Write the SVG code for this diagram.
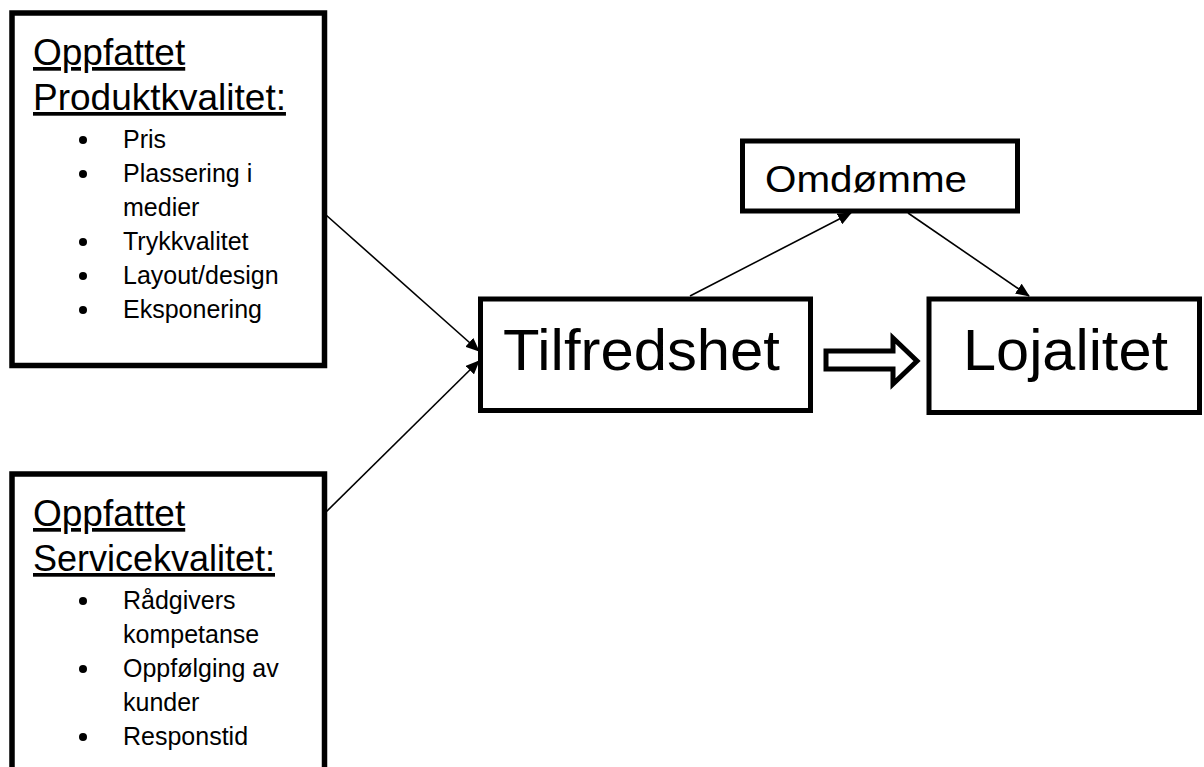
<svg xmlns="http://www.w3.org/2000/svg" width="1204" height="767" viewBox="0 0 1204 767">
<style>
.box{fill:#fff;stroke:#000;stroke-width:5}
.thick{stroke-width:5.5}
.t{font-family:"Liberation Sans",Arial,sans-serif;fill:#000}
.h{font-size:37px;text-decoration:underline}
.i{font-size:25px}
.big{font-size:57px}
.mid{font-size:37px}
.b{fill:#000}
.con{stroke:#000;stroke-width:1.6;fill:none}
</style>
<defs>
<marker id="ah" markerUnits="userSpaceOnUse" markerWidth="14" markerHeight="12" refX="13" refY="6" orient="auto" viewBox="0 0 14 12">
<path d="M0,0 L14,6 L0,12 Z" fill="#000"/>
</marker>
</defs>
<rect width="1204" height="767" fill="#fff"/>
<g id="produkt">
<rect class="box thick" x="12" y="13" width="312.5" height="352.5"/>
<text class="t h" x="33" y="65">Oppfattet</text>
<text class="t h" x="33" y="110">Produktkvalitet:</text>
<circle class="b" cx="83" cy="140" r="4"/>
<text class="t i" x="123" y="148">Pris</text>
<circle class="b" cx="83" cy="174" r="4"/>
<text class="t i" x="123" y="182">Plassering i</text>
<text class="t i" x="123" y="216">medier</text>
<circle class="b" cx="83" cy="242" r="4"/>
<text class="t i" x="123" y="250">Trykkvalitet</text>
<circle class="b" cx="83" cy="276" r="4"/>
<text class="t i" x="123" y="284">Layout/design</text>
<circle class="b" cx="83" cy="310" r="4"/>
<text class="t i" x="123" y="318">Eksponering</text>
</g>
<g id="service">
<rect class="box thick" x="12" y="474" width="312.5" height="330"/>
<text class="t h" x="33" y="526">Oppfattet</text>
<text class="t h" x="33" y="571" textLength="242" lengthAdjust="spacingAndGlyphs">Servicekvalitet:</text>
<circle class="b" cx="83" cy="601" r="4"/>
<text class="t i" x="123" y="609">Rådgivers</text>
<text class="t i" x="123" y="643">kompetanse</text>
<circle class="b" cx="83" cy="669" r="4"/>
<text class="t i" x="123" y="677">Oppfølging av</text>
<text class="t i" x="123" y="711">kunder</text>
<circle class="b" cx="83" cy="737" r="4"/>
<text class="t i" x="123" y="745">Responstid</text>
</g>
<g id="tilfredshet">
<rect class="box" x="480.5" y="299" width="330" height="111.5"/>
<text class="t big" x="503" y="370" textLength="277" lengthAdjust="spacingAndGlyphs">Tilfredshet</text>
</g>
<g id="lojalitet">
<rect class="box" x="929" y="299" width="270.5" height="113.5"/>
<text class="t big" x="963" y="370" textLength="205" lengthAdjust="spacingAndGlyphs">Lojalitet</text>
</g>
<g id="omdomme">
<rect class="box" x="742.5" y="141" width="275" height="70"/>
<text class="t mid" x="765" y="192" textLength="202" lengthAdjust="spacingAndGlyphs">Omdømme</text>
</g>
<g id="connectors">
<line class="con" x1="326" y1="215" x2="479" y2="351" marker-end="url(#ah)"/>
<line class="con" x1="326" y1="512" x2="479" y2="361" marker-end="url(#ah)"/>
<line class="con" x1="690" y1="296" x2="851" y2="213" marker-end="url(#ah)"/>
<line class="con" x1="908" y1="213" x2="1029" y2="296" marker-end="url(#ah)"/>
<polygon points="826,351 893,351 893,338 917,361 893,384 893,369 826,369" fill="#fff" stroke="#000" stroke-width="5" stroke-linejoin="miter"/>
</g>
</svg>
